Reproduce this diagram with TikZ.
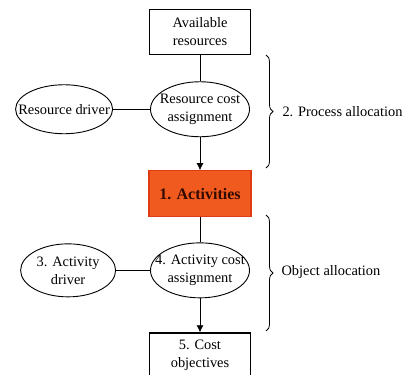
\documentclass[tikz,border=0pt]{standalone}
\usepackage{fontspec}
\setmainfont{Liberation Serif}
\usetikzlibrary{shapes.geometric, arrows.meta}
\usetikzlibrary{positioning, decorations.pathreplacing}
\definecolor{actfill}{RGB}{240,90,30}
\definecolor{actdraw}{RGB}{222,60,20}
\definecolor{acttext}{RGB}{50,10,0}
\tikzstyle{box} = [rectangle, minimum width = 101, minimum height = 45,
  draw = black, line width = 1.6, text centered, align = center]
\tikzstyle{ell} = [
  ellipse, inner xsep = -15, inner ysep = 0,
  minimum width = 99, minimum height = 55,
  draw = black, line width = 0.9, align = center
]
\tikzstyle{actbox} = [
  rectangle, minimum width = 102, minimum height = 46,
  fill = actfill, draw = actdraw, line width = 1.2,
  text = acttext, font = \fontsize{16}{18}\selectfont\bfseries
]
\tikzstyle{brc} = [decorate, decoration = {brace, amplitude = 7},
  line width = 0.8]

\begin{document}
\begin{tikzpicture}[node distance = 0, font = \fontsize{14.4}{18}\selectfont,
    >={Latex[length = 7, width = 7]}]
    \useasboundingbox (0, 0) rectangle (408pt, -375pt);
    \node [box, xshift = 200, yshift = -32] (avail) {Available\\resources};
    \node [ell, below = 26pt of avail] (rcost) {Resource cost\\assignment};
    \node [ell, minimum width = 97, minimum height = 49, left = 37pt of rcost]
      (rdriver) {Resource driver};
    \node [actbox, below = 33pt of rcost] (act) {1. Activities};
    \node [ell, below = 25pt of act] (acost) {4. Activity cost\\assignment};
    \node [ell, minimum width = 95, minimum height = 53, left = 34pt of acost]
      (adriver) {3. Activity\\driver};
    \node [box, below = 34pt of acost] (cost) {5. Cost\\objectives};
    \draw [-, line width = 0.8] (avail) -- (rcost);
    \draw [-, line width = 0.8] (rdriver) -- (rcost);
    \draw [->, line width = 0.8] (rcost) -- (act);
    \draw [-, line width = 0.8] (act) -- (acost);
    \draw [-, line width = 0.8] (adriver) -- (acost);
    \draw [->, line width = 0.8] (acost) -- (cost);
    \coordinate (b1-top) at (266pt, -55pt);
    \coordinate (b1-bot) at (266pt, -168pt);
    \coordinate (b2-top) at (266pt, -215pt);
    \coordinate (b2-bot) at (266pt, -331pt);
    \draw [brc] (b1-top) -- (b1-bot);
    \draw [brc] (b2-top) -- (b2-bot);
    \node [anchor = west, xshift = 279, yshift = -112] (palloc) {2. Process allocation};
    \node [anchor = west, xshift = 278, yshift = -272] (oalloc) {Object allocation};
  \end{tikzpicture}
\end{document}
